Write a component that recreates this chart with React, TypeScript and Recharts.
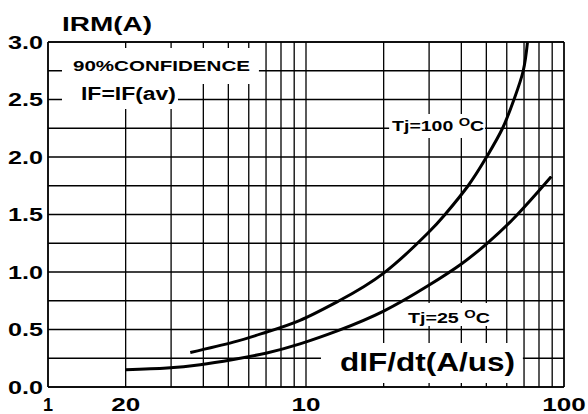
import React from 'react';
import { LineChart, Line, XAxis, YAxis, CartesianGrid, ReferenceArea, ReferenceLine } from 'recharts';

const FONT = '"Liberation Sans", Arial, Helvetica, sans-serif';

// log-axis gridlines, only some of them carry a label
const xTicks = [1, 2, 3, 4, 5, 6, 7, 8, 9, 10, 20, 30, 40, 50, 60, 70, 80, 90, 100];
const xTickLabels = ['1', '20', '', '', '', '', '', '', '', '10', '', '', '', '', '', '', '', '', '100'];
const yTicks = [0, 0.25, 0.5, 0.75, 1, 1.25, 1.5, 1.75, 2, 2.25, 2.5, 2.75, 3];
const yTickLabels = ['0.0', '', '0.5', '', '1.0', '', '1.5', '', '2.0', '', '2.5', '', '3.0'];

// IRM vs dIF/dt
const tj25X = [2.0, 2.89, 3.89, 5.23, 7.05, 9.48, 13.3, 20, 29.7, 40, 50, 62.7, 79.8, 89.3];
const tj25Y = [0.15, 0.165, 0.194, 0.24, 0.296, 0.375, 0.49, 0.66, 0.88, 1.07, 1.243, 1.448, 1.705, 1.83];
const tj100X = [3.56, 5.23, 7.05, 9.48, 13.3, 20, 29.7, 34.6, 42.5, 50.1, 57.8, 64, 69.5, 72.2];
const tj100Y = [0.3, 0.39, 0.478, 0.579, 0.744, 0.99, 1.339, 1.5, 1.75, 2.0, 2.25, 2.5, 2.75, 3.0];

const tj25 = tj25X.map((x, i) => ({ x, y: tj25Y[i] }));
const tj100 = tj100X.map((x, i) => ({ x, y: tj100Y[i] }));

type Part = { t: string; sup?: boolean };

// white boxes that knock out the grid behind the notes
const notes: { x1: number; x2: number; y1: number; y2: number; parts: Part[]; size: number; len: number; dx: number; dy: number }[] = [
  { x1: 1.133, x2: 6.57, y1: 2.635, y2: 2.948, parts: [{ t: '90%CONFIDENCE' }], size: 15, len: 177, dx: 11, dy: 23 },
  { x1: 1.133, x2: 3.19, y1: 2.417, y2: 2.635, parts: [{ t: 'IF=IF(av)' }], size: 18, len: 95, dx: 19, dy: 16 },
  { x1: 21.0, x2: 49.4, y1: 2.165, y2: 2.374, parts: [{ t: 'Tj=100 ' }, { t: 'O', sup: true }, { t: 'C' }], size: 15, len: 92, dx: 3, dy: 17.5 },
  { x1: 24.4, x2: 51.7, y1: 0.53, y2: 0.73, parts: [{ t: 'Tj=25 ' }, { t: 'O', sup: true }, { t: 'C' }], size: 15, len: 82, dx: 2, dy: 19.5 },
  { x1: 11.43, x2: 69.3, y1: 0.035, y2: 0.383, parts: [{ t: 'dIF/dt(A/us)' }], size: 26, len: 175, dx: 19, dy: 28.5 },
];

function BoxText(props: any) {
  const { viewBox, parts, size, len, dx, dy } = props;
  if (!viewBox) return null;
  return (
    <text
      x={viewBox.x + dx}
      y={viewBox.y + dy}
      fontSize={size}
      fontWeight="bold"
      fontFamily={FONT}
      fill="#000"
      textLength={len}
      lengthAdjust="spacingAndGlyphs"
    >
      {parts.map((p: Part, i: number) => {
        const prev = i > 0 ? parts[i - 1] : null;
        const shift = p.sup ? -5 : prev && prev.sup ? 5 : 0;
        return (
          <tspan key={i} dy={shift} fontSize={p.sup ? size * 0.75 : size}>
            {p.t}
          </tspan>
        );
      })}
    </text>
  );
}

function XTick(props: any) {
  const { x, y, payload } = props;
  const label = xTickLabels[xTicks.indexOf(payload.value)] || '';
  if (!label) return <g />;
  return (
    <text
      x={x}
      y={y + 24}
      textAnchor="middle"
      fontSize={18}
      fontWeight="bold"
      fontFamily={FONT}
      fill="#000"
      textLength={label.length > 1 ? label.length * 14.5 : undefined}
      lengthAdjust="spacingAndGlyphs"
    >
      {label}
    </text>
  );
}

function YTick(props: any) {
  const { x, y, payload } = props;
  const label = yTickLabels[yTicks.indexOf(payload.value)] || '';
  if (!label) return <g />;
  return (
    <text
      x={x}
      y={y + 6.5}
      textAnchor="end"
      fontSize={18}
      fontWeight="bold"
      fontFamily={FONT}
      fill="#000"
      textLength={35}
      lengthAdjust="spacingAndGlyphs"
    >
      {label}
    </text>
  );
}

export default function App() {
  return (
    <div style={{ position: 'absolute', left: 0, top: 0, width: 588, height: 414, background: '#fff' }}>
      <LineChart width={588} height={414} margin={{ top: 42, right: 24, bottom: 0, left: 0 }}>
        <CartesianGrid stroke="#000" strokeWidth={1.3} />
        <XAxis
          dataKey="x"
          type="number"
          scale="log"
          domain={[1, 100]}
          ticks={xTicks}
          interval={0}
          height={27}
          tickSize={0}
          tickMargin={0}
          tickLine={false}
          axisLine={{ stroke: '#000', strokeWidth: 1.5 }}
          tick={<XTick />}
          allowDataOverflow
        />
        <YAxis
          type="number"
          domain={[0, 3]}
          ticks={yTicks}
          interval={0}
          width={48}
          tickSize={0}
          tickMargin={5}
          tickLine={false}
          axisLine={{ stroke: '#000', strokeWidth: 1.5 }}
          tick={<YTick />}
          allowDataOverflow
        />
        <ReferenceLine y={3} stroke="#000" strokeWidth={1.3} />
        <ReferenceLine x={100} stroke="#000" strokeWidth={1.3} />
        {notes.map((n, i) => (
          <ReferenceArea
            key={i}
            x1={n.x1}
            x2={n.x2}
            y1={n.y1}
            y2={n.y2}
            fill="#fff"
            fillOpacity={1}
            stroke="none"
            label={<BoxText parts={n.parts} size={n.size} len={n.len} dx={n.dx} dy={n.dy} />}
          />
        ))}
        <Line data={tj25} dataKey="y" type="natural" stroke="#000" strokeWidth={3} dot={false} isAnimationActive={false} />
        <Line data={tj100} dataKey="y" type="natural" stroke="#000" strokeWidth={3} dot={false} isAnimationActive={false} />
      </LineChart>
      <svg width={588} height={42} style={{ position: 'absolute', left: 0, top: 0 }}>
        <text x={62} y={31} fontSize={20} fontWeight="bold" fontFamily={FONT} fill="#000" textLength={90} lengthAdjust="spacingAndGlyphs">
          IRM(A)
        </text>
      </svg>
    </div>
  );
}
